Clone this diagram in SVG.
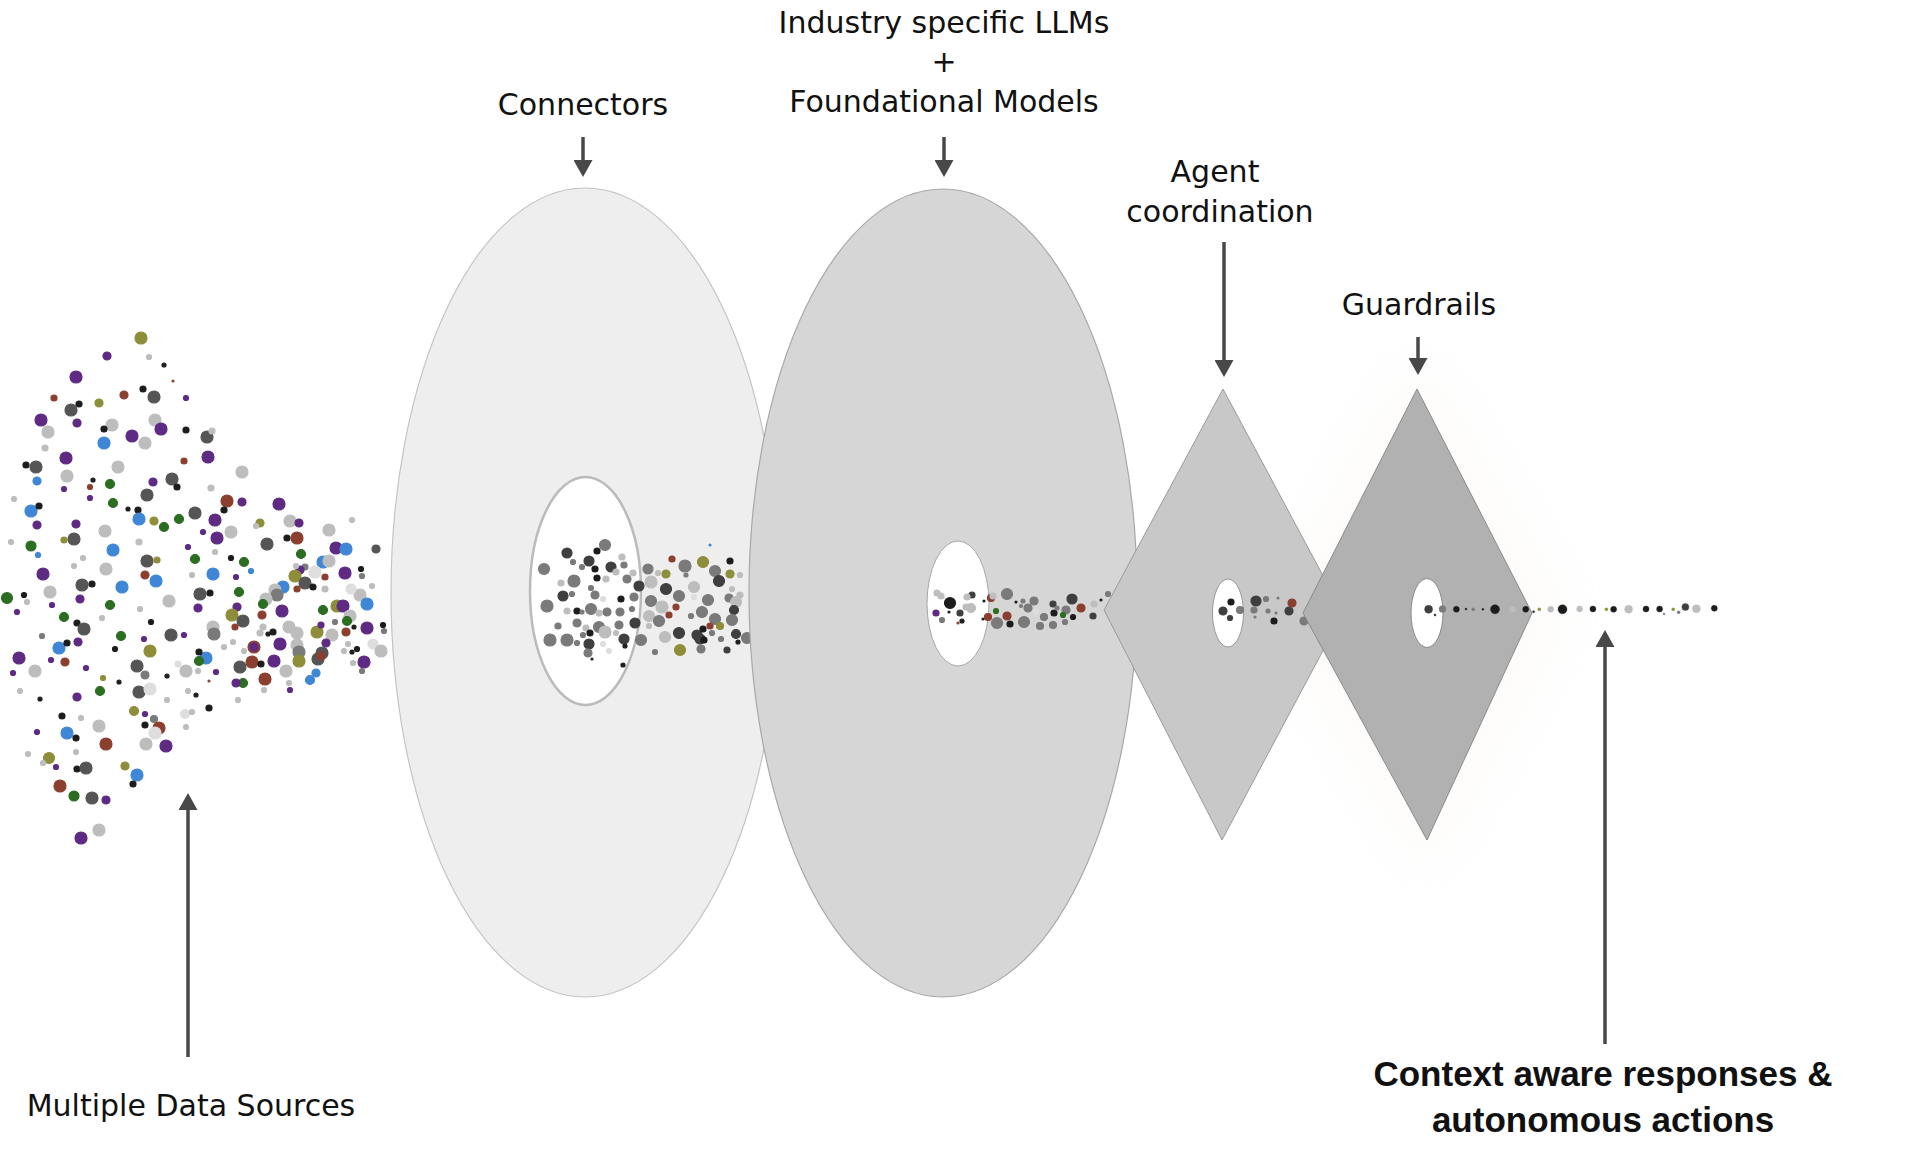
<svg xmlns="http://www.w3.org/2000/svg" width="1912" height="1158" viewBox="0 0 1912 1158">
<defs>
<style>
.lbl{font-family:"DejaVu Sans",sans-serif;font-size:30px;fill:#111;text-anchor:middle}
.bold{font-family:"Liberation Sans",Arial,sans-serif;font-size:35px;font-weight:bold;fill:#111;text-anchor:middle}
.conn line{stroke:#484848;stroke-width:3.5;marker-end:url(#ah)}
.pu{fill:#5e2a84;stroke:#5e2a84}.bl{fill:#3f87d6;stroke:#3f87d6}.gr{fill:#2b6e22;stroke:#2b6e22}.ol{fill:#8e8e3a;stroke:#8e8e3a}.br{fill:#8b3f2f;stroke:#8b3f2f}
.dg{fill:#555;stroke:#555}.dk{fill:#3f3f3f;stroke:#3f3f3f}.g{fill:#7a7a7a;stroke:#7a7a7a}.lg{fill:#bdbdbd;stroke:#bdbdbd}.vl{fill:#dedede;stroke:#dedede}.k{fill:#1c1c1c;stroke:#1c1c1c}
circle{stroke-width:1.2}
#output-stream circle{stroke-width:0.4}
</style>
<marker id="ah" viewBox="0 0 17 19" refX="0" refY="9.5" markerWidth="17" markerHeight="19" markerUnits="userSpaceOnUse" orient="auto">
<path d="M0,0 L17,9.5 L0,19 Z" fill="#484848"/>
</marker>
<filter id="glow" x="-50%" y="-50%" width="200%" height="200%"><feGaussianBlur stdDeviation="30"/></filter>
</defs>
<rect width="1912" height="1158" fill="#fff"/>

<g id="glow-guardrails">
<polygon points="1417,350 1570,613 1427,880 1265,613" fill="#ece2d4" opacity="0.12" filter="url(#glow)"/>
</g>

<g id="data-sources">
<circle class="ol" cx="141" cy="338" r="6"/><circle class="pu" cx="107" cy="356" r="4"/><circle class="lg" cx="149" cy="357" r="2.5"/><circle class="k" cx="164" cy="365" r="2"/>
<circle class="pu" cx="76" cy="377" r="6"/><circle class="br" cx="173" cy="381" r="1"/><circle class="br" cx="54" cy="398" r="3"/><circle class="br" cx="124" cy="395" r="4"/>
<circle class="k" cx="143" cy="389" r="3"/><circle class="dg" cx="154" cy="397" r="6"/><circle class="pu" cx="186" cy="398" r="2.5"/><circle class="ol" cx="99" cy="403" r="4"/>
<circle class="k" cx="79" cy="404" r="3"/><circle class="dg" cx="71" cy="410" r="6"/><circle class="pu" cx="41" cy="420" r="6"/><circle class="pu" cx="77" cy="423" r="4"/>
<circle class="lg" cx="112" cy="425" r="6"/><circle class="lg" cx="155" cy="420" r="6"/><circle class="pu" cx="161" cy="429" r="6"/><circle class="k" cx="104" cy="429" r="3"/>
<circle class="lg" cx="48" cy="432" r="6"/><circle class="pu" cx="132" cy="436" r="6"/><circle class="k" cx="186" cy="430" r="3"/><circle class="dg" cx="207" cy="437" r="6"/>
<circle class="lg" cx="212" cy="431" r="3"/><circle class="lg" cx="145" cy="443" r="6"/><circle class="bl" cx="104" cy="443" r="6"/><circle class="lg" cx="45" cy="448" r="3"/>
<circle class="pu" cx="208" cy="457" r="6"/><circle class="pu" cx="66" cy="458" r="6"/><circle class="k" cx="26" cy="465" r="3"/><circle class="dg" cx="36" cy="467" r="6"/>
<circle class="lg" cx="118" cy="467" r="6"/><circle class="br" cx="184" cy="461" r="3"/><circle class="lg" cx="242" cy="472" r="6"/><circle class="bl" cx="37" cy="481" r="4"/>
<circle class="lg" cx="67" cy="476" r="6"/><circle class="pu" cx="153" cy="482" r="4"/><circle class="dg" cx="172" cy="479" r="6"/><circle class="k" cx="177" cy="487" r="3"/>
<circle class="k" cx="93" cy="480" r="2"/><circle class="br" cx="90" cy="487" r="2.5"/><circle class="pu" cx="64" cy="489" r="2.5"/><circle class="gr" cx="110" cy="484" r="4.5"/>
<circle class="lg" cx="211" cy="488" r="3"/><circle class="lg" cx="14" cy="499" r="2.5"/><circle class="dg" cx="147" cy="495" r="6"/><circle class="pu" cx="90" cy="498" r="2.5"/>
<circle class="br" cx="227" cy="501" r="6"/><circle class="pu" cx="242" cy="502" r="4"/><circle class="pu" cx="279" cy="504" r="6"/><circle class="bl" cx="31" cy="511" r="6"/>
<circle class="k" cx="39" cy="506" r="3"/><circle class="gr" cx="113" cy="503" r="4.5"/><circle class="k" cx="128" cy="509" r="2"/><circle class="k" cx="138" cy="510" r="3"/>
<circle class="bl" cx="139" cy="519" r="6"/><circle class="ol" cx="154" cy="521" r="4"/><circle class="gr" cx="164" cy="527" r="4.5"/><circle class="gr" cx="179" cy="519" r="4.5"/>
<circle class="dg" cx="195" cy="513" r="6"/><circle class="k" cx="224" cy="510" r="3"/><circle class="pu" cx="215" cy="520" r="6"/><circle class="pu" cx="217" cy="538" r="6"/>
<circle class="lg" cx="231" cy="532" r="6"/><circle class="pu" cx="203" cy="532" r="2.5"/><circle class="pu" cx="37" cy="525" r="4"/><circle class="pu" cx="76" cy="524" r="4"/>
<circle class="lg" cx="105" cy="531" r="6"/><circle class="dg" cx="74" cy="539" r="6"/><circle class="ol" cx="64" cy="540" r="3"/><circle class="lg" cx="11" cy="542" r="2.5"/>
<circle class="gr" cx="31" cy="546" r="5"/><circle class="bl" cx="38" cy="555" r="2.5"/><circle class="bl" cx="113" cy="550" r="6"/><circle class="lg" cx="139" cy="542" r="3"/>
<circle class="pu" cx="188" cy="547" r="2.5"/><circle class="ol" cx="260" cy="523" r="4"/><circle class="lg" cx="256" cy="526" r="2.5"/><circle class="lg" cx="290" cy="521" r="6"/>
<circle class="pu" cx="299" cy="523" r="4"/><circle class="lg" cx="329" cy="530" r="6"/><circle class="k" cx="287" cy="538" r="3"/><circle class="br" cx="297" cy="538" r="6"/>
<circle class="dg" cx="267" cy="544" r="6"/><circle class="lg" cx="352" cy="520" r="2.5"/><circle class="dg" cx="376" cy="549" r="4"/><circle class="pu" cx="336" cy="548" r="6"/>
<circle class="bl" cx="346" cy="549" r="6"/><circle class="gr" cx="301" cy="554" r="4.5"/><circle class="bl" cx="323" cy="562" r="6"/><circle class="lg" cx="329" cy="561" r="6"/>
<circle class="pu" cx="345" cy="573" r="6"/><circle class="k" cx="361" cy="569" r="2.5"/><circle class="g" cx="362" cy="576" r="2.5"/><circle class="vl" cx="315" cy="572" r="6"/>
<circle class="br" cx="325" cy="577" r="3"/><circle class="g" cx="305" cy="567" r="3"/><circle class="pu" cx="300" cy="570" r="4"/><circle class="lg" cx="296" cy="566" r="2.5"/>
<circle class="ol" cx="295" cy="576" r="6"/><circle class="dg" cx="305" cy="583" r="6"/><circle class="k" cx="313" cy="587" r="3"/><circle class="lg" cx="325" cy="589" r="3"/>
<circle class="br" cx="297" cy="589" r="3"/><circle class="bl" cx="283" cy="587" r="6"/><circle class="lg" cx="275" cy="590" r="6"/><circle class="g" cx="277" cy="595" r="6"/>
<circle class="lg" cx="266" cy="599" r="6"/><circle class="gr" cx="263" cy="604" r="4.5"/><circle class="pu" cx="282" cy="611" r="6"/><circle class="gr" cx="244" cy="562" r="4.5"/>
<circle class="bl" cx="251" cy="571" r="2.5"/><circle class="bl" cx="213" cy="574" r="6"/><circle class="k" cx="231" cy="558" r="2.5"/><circle class="pu" cx="236" cy="577" r="2.5"/>
<circle class="gr" cx="239" cy="592" r="4.5"/><circle class="pu" cx="237" cy="607" r="4"/><circle class="ol" cx="232" cy="615" r="6"/><circle class="dg" cx="243" cy="621" r="6"/>
<circle class="br" cx="235" cy="627" r="3"/><circle class="br" cx="262" cy="615" r="4"/><circle class="lg" cx="263" cy="627" r="3"/><circle class="k" cx="273" cy="632" r="3"/>
<circle class="lg" cx="260" cy="633" r="3"/><circle class="k" cx="268" cy="634" r="2"/><circle class="lg" cx="289" cy="627" r="6"/><circle class="lg" cx="297" cy="633" r="6"/>
<circle class="lg" cx="297" cy="645" r="6"/><circle class="g" cx="299" cy="652" r="6"/><circle class="pu" cx="280" cy="644" r="6"/><circle class="ol" cx="317" cy="632" r="6"/>
<circle class="pu" cx="321" cy="625" r="3"/><circle class="ol" cx="337" cy="606" r="6"/><circle class="pu" cx="343" cy="606" r="6"/><circle class="lg" cx="350" cy="616" r="6"/>
<circle class="lg" cx="360" cy="595" r="6"/><circle class="bl" cx="367" cy="604" r="6"/><circle class="vl" cx="351" cy="589" r="5"/><circle class="lg" cx="372" cy="586" r="2.5"/>
<circle class="gr" cx="323" cy="610" r="4.5"/><circle class="g" cx="335" cy="622" r="2.5"/><circle class="gr" cx="347" cy="621" r="4.5"/><circle class="br" cx="346" cy="632" r="4"/>
<circle class="lg" cx="332" cy="635" r="6"/><circle class="pu" cx="326" cy="643" r="4"/><circle class="pu" cx="367" cy="628" r="6"/><circle class="k" cx="383" cy="625" r="2.5"/>
<circle class="g" cx="384" cy="631" r="2.5"/><circle class="k" cx="354" cy="627" r="2"/><circle class="lg" cx="348" cy="644" r="2.5"/><circle class="lg" cx="344" cy="651" r="2.5"/>
<circle class="k" cx="352" cy="652" r="2"/><circle class="k" cx="357" cy="649" r="2.5"/><circle class="vl" cx="373" cy="644" r="5"/><circle class="lg" cx="381" cy="651" r="6"/>
<circle class="pu" cx="364" cy="662" r="6"/><circle class="lg" cx="353" cy="663" r="2.5"/><circle class="g" cx="362" cy="671" r="2.5"/><circle class="dg" cx="322" cy="653" r="6"/>
<circle class="dg" cx="318" cy="659" r="6"/><circle class="br" cx="321" cy="656" r="4"/><circle class="ol" cx="299" cy="661" r="6"/><circle class="lg" cx="286" cy="671" r="6"/>
<circle class="lg" cx="289" cy="683" r="2.5"/><circle class="bl" cx="316" cy="673" r="4"/><circle class="bl" cx="310" cy="680" r="4.5"/><circle class="pu" cx="290" cy="690" r="2.5"/>
<circle class="pu" cx="274" cy="661" r="6"/><circle class="br" cx="252" cy="662" r="6"/><circle class="br" cx="254" cy="647" r="6"/><circle class="pu" cx="254" cy="647" r="4"/>
<circle class="k" cx="261" cy="664" r="3"/><circle class="dg" cx="240" cy="667" r="6"/><circle class="br" cx="265" cy="679" r="6"/><circle class="gr" cx="243" cy="683" r="4.5"/>
<circle class="pu" cx="236" cy="683" r="4"/><circle class="lg" cx="264" cy="690" r="2.5"/><circle class="lg" cx="238" cy="700" r="2.5"/><circle class="lg" cx="224" cy="647" r="2.5"/>
<circle class="lg" cx="233" cy="642" r="2.5"/><circle class="lg" cx="244" cy="651" r="2.5"/><circle class="bl" cx="206" cy="658" r="6"/><circle class="gr" cx="199" cy="661" r="4.5"/>
<circle class="k" cx="199" cy="652" r="3"/><circle class="lg" cx="186" cy="671" r="6"/><circle class="lg" cx="198" cy="671" r="2.5"/><circle class="pu" cx="216" cy="672" r="2.5"/>
<circle class="br" cx="209" cy="681" r="1"/><circle class="vl" cx="178" cy="664" r="3"/><circle class="lg" cx="213" cy="627" r="6"/><circle class="g" cx="214" cy="634" r="6"/>
<circle class="dg" cx="200" cy="594" r="6"/><circle class="k" cx="210" cy="593" r="3"/><circle class="lg" cx="192" cy="575" r="2.5"/><circle class="gr" cx="195" cy="559" r="4.5"/>
<circle class="lg" cx="215" cy="552" r="2.5"/><circle class="bl" cx="156" cy="581" r="6"/><circle class="dg" cx="147" cy="561" r="6"/><circle class="ol" cx="157" cy="560" r="3"/>
<circle class="br" cx="145" cy="575" r="4"/><circle class="lg" cx="169" cy="601" r="6"/><circle class="pu" cx="198" cy="608" r="4"/><circle class="dg" cx="171" cy="635" r="6"/>
<circle class="pu" cx="184" cy="635" r="2.5"/><circle class="k" cx="151" cy="622" r="2.5"/><circle class="lg" cx="140" cy="609" r="2.5"/><circle class="gr" cx="121" cy="636" r="4.5"/>
<circle class="pu" cx="144" cy="639" r="2.5"/><circle class="ol" cx="150" cy="651" r="6"/><circle class="dg" cx="137" cy="666" r="6"/><circle class="g" cx="145" cy="675" r="4"/>
<circle class="dg" cx="139" cy="692" r="6"/><circle class="vl" cx="150" cy="689" r="6"/><circle class="k" cx="167" cy="676" r="2"/><circle class="lg" cx="167" cy="700" r="2.5"/>
<circle class="bl" cx="122" cy="587" r="6"/><circle class="lg" cx="106" cy="569" r="6"/><circle class="gr" cx="110" cy="605" r="4.5"/><circle class="lg" cx="102" cy="618" r="2.5"/>
<circle class="dg" cx="82" cy="585" r="6"/><circle class="k" cx="92" cy="584" r="3"/><circle class="lg" cx="83" cy="558" r="2.5"/><circle class="lg" cx="74" cy="566" r="2.5"/>
<circle class="pu" cx="43" cy="574" r="6"/><circle class="lg" cx="50" cy="592" r="6"/><circle class="pu" cx="80" cy="599" r="4"/><circle class="gr" cx="64" cy="617" r="4.5"/>
<circle class="k" cx="77" cy="623" r="3"/><circle class="dg" cx="84" cy="629" r="6"/><circle class="k" cx="24" cy="595" r="2.5"/><circle class="lg" cx="27" cy="602" r="2.5"/>
<circle class="gr" cx="7" cy="598" r="5.5"/><circle class="pu" cx="17" cy="612" r="2.5"/><circle class="pu" cx="52" cy="605" r="2.5"/><circle class="g" cx="42" cy="636" r="2.5"/>
<circle class="bl" cx="59" cy="648" r="6"/><circle class="k" cx="67" cy="643" r="3"/><circle class="pu" cx="78" cy="642" r="4"/><circle class="pu" cx="19" cy="658" r="6"/>
<circle class="lg" cx="35" cy="671" r="6"/><circle class="pu" cx="13" cy="673" r="2.5"/><circle class="pu" cx="51" cy="660" r="2.5"/><circle class="br" cx="65" cy="662" r="4"/>
<circle class="pu" cx="86" cy="668" r="2.5"/><circle class="k" cx="115" cy="649" r="2.5"/><circle class="gr" cx="100" cy="691" r="4.5"/><circle class="ol" cx="103" cy="678" r="2.5"/>
<circle class="pu" cx="77" cy="697" r="4"/><circle class="k" cx="40" cy="699" r="2"/><circle class="lg" cx="20" cy="691" r="2.5"/><circle class="k" cx="119" cy="682" r="2"/>
<circle class="ol" cx="134" cy="711" r="4.5"/><circle class="pu" cx="145" cy="714" r="2.5"/><circle class="g" cx="154" cy="719" r="3.5"/><circle class="k" cx="145" cy="725" r="3"/>
<circle class="br" cx="159" cy="728" r="6"/><circle class="vl" cx="155" cy="733" r="6"/><circle class="lg" cx="146" cy="744" r="6"/><circle class="pu" cx="166" cy="746" r="6"/>
<circle class="vl" cx="185" cy="714" r="4.5"/><circle class="lg" cx="192" cy="712" r="2.5"/><circle class="lg" cx="186" cy="727" r="2.5"/><circle class="k" cx="209" cy="708" r="3"/>
<circle class="lg" cx="188" cy="691" r="2.5"/><circle class="k" cx="196" cy="695" r="2"/><circle class="k" cx="62" cy="716" r="3"/><circle class="lg" cx="81" cy="718" r="2.5"/>
<circle class="lg" cx="99" cy="726" r="6"/><circle class="bl" cx="67" cy="733" r="6"/><circle class="k" cx="76" cy="738" r="3"/><circle class="pu" cx="37" cy="732" r="2.5"/>
<circle class="br" cx="106" cy="744" r="6"/><circle class="lg" cx="76" cy="752" r="2.5"/><circle class="lg" cx="28" cy="754" r="2.5"/><circle class="ol" cx="49" cy="758" r="5.5"/>
<circle class="lg" cx="43" cy="763" r="2.5"/><circle class="pu" cx="56" cy="767" r="2.5"/><circle class="k" cx="77" cy="769" r="3"/><circle class="dg" cx="86" cy="768" r="6"/>
<circle class="ol" cx="125" cy="766" r="4"/><circle class="bl" cx="137" cy="775" r="6"/><circle class="k" cx="133" cy="784" r="3"/><circle class="br" cx="60" cy="786" r="6"/>
<circle class="gr" cx="74" cy="796" r="5"/><circle class="dg" cx="92" cy="798" r="6"/><circle class="pu" cx="106" cy="800" r="4"/><circle class="lg" cx="99" cy="830" r="6"/>
<circle class="pu" cx="81" cy="838" r="6"/>
</g>

<g id="connectors">
<ellipse cx="585" cy="592.5" rx="194" ry="404.5" fill="#eeeeee" stroke="#c4c4c4" stroke-width="1.2"/>
<ellipse cx="585.5" cy="591" rx="55.5" ry="114" fill="#ffffff" stroke="#bbbbbb" stroke-width="2.5"/>
<g id="stream-connectors">
<circle class="g" cx="544" cy="569" r="5.5"/><circle class="dk" cx="567" cy="553" r="5"/><circle class="g" cx="605" cy="545" r="5.5"/><circle class="k" cx="597" cy="551" r="3"/>
<circle class="g" cx="573" cy="562" r="2.5"/><circle class="dk" cx="589" cy="561" r="5"/><circle class="g" cx="582" cy="567" r="2.5"/><circle class="dk" cx="611" cy="567" r="5"/>
<circle class="lg" cx="622" cy="557" r="3"/><circle class="g" cx="624" cy="565" r="3"/><circle class="k" cx="595" cy="569" r="3"/><circle class="g" cx="574" cy="581" r="6"/>
<circle class="k" cx="597" cy="578" r="3"/><circle class="lg" cx="606" cy="579" r="3"/><circle class="lg" cx="616" cy="572" r="3"/><circle class="g" cx="627" cy="579" r="4"/>
<circle class="lg" cx="633" cy="573" r="3"/><circle class="dk" cx="639" cy="586" r="5"/><circle class="lg" cx="561" cy="583" r="3"/><circle class="g" cx="591" cy="588" r="2.5"/>
<circle class="dk" cx="563" cy="596" r="5"/><circle class="g" cx="572" cy="594" r="2.5"/><circle class="g" cx="595" cy="595" r="4"/><circle class="k" cx="621" cy="599" r="3"/>
<circle class="g" cx="634" cy="597" r="4"/><circle class="vl" cx="603" cy="599" r="2.5"/><circle class="g" cx="547" cy="606" r="6"/><circle class="g" cx="591" cy="609" r="5.5"/>
<circle class="lg" cx="567" cy="611" r="3"/><circle class="k" cx="577" cy="611" r="3"/><circle class="g" cx="582" cy="612" r="2"/><circle class="lg" cx="599" cy="613" r="3"/>
<circle class="g" cx="607" cy="612" r="4"/><circle class="g" cx="620" cy="612" r="4"/><circle class="g" cx="632" cy="609" r="2.5"/><circle class="g" cx="577" cy="623" r="4"/>
<circle class="g" cx="558" cy="626" r="3"/><circle class="g" cx="599" cy="627" r="5.5"/><circle class="lg" cx="586" cy="628" r="3"/><circle class="g" cx="619" cy="625" r="4"/>
<circle class="dk" cx="635" cy="623" r="5"/><circle class="g" cx="550" cy="640" r="6"/><circle class="g" cx="567" cy="640" r="6"/><circle class="g" cx="583" cy="635" r="2.5"/>
<circle class="k" cx="590" cy="633" r="3"/><circle class="lg" cx="605" cy="632" r="6"/><circle class="lg" cx="616" cy="633" r="2.5"/><circle class="dk" cx="624" cy="639" r="5"/>
<circle class="g" cx="577" cy="643" r="2.5"/><circle class="dk" cx="589" cy="644" r="5"/><circle class="vl" cx="603" cy="644" r="2.5"/><circle class="k" cx="625" cy="646" r="2"/>
<circle class="g" cx="588" cy="653" r="4"/><circle class="vl" cx="609" cy="651" r="2.5"/><circle class="k" cx="623" cy="665" r="2"/><circle class="k" cx="592" cy="659" r="1"/>
<circle class="g" cx="648" cy="569" r="5"/><circle class="lg" cx="658" cy="573" r="2.5"/><circle class="lg" cx="651" cy="582" r="6"/><circle class="ol" cx="666" cy="574" r="4"/>
<circle class="br" cx="672" cy="559" r="3"/><circle class="g" cx="685" cy="566" r="6"/><circle class="g" cx="686" cy="575" r="2"/><circle class="ol" cx="703" cy="562" r="5.5"/>
<circle class="g" cx="715" cy="571" r="5.5"/><circle class="k" cx="730" cy="561" r="3"/><circle class="ol" cx="730" cy="574" r="4"/><circle class="lg" cx="740" cy="575" r="2.5"/>
<circle class="dk" cx="719" cy="581" r="5.5"/><circle class="dk" cx="666" cy="589" r="5.5"/><circle class="lg" cx="694" cy="587" r="5.5"/><circle class="g" cx="679" cy="596" r="5.5"/>
<circle class="g" cx="651" cy="601" r="5.5"/><circle class="lg" cx="662" cy="607" r="6"/><circle class="br" cx="676" cy="607" r="3"/><circle class="br" cx="669" cy="615" r="3"/>
<circle class="vl" cx="694" cy="597" r="2.5"/><circle class="g" cx="708" cy="600" r="5.5"/><circle class="lg" cx="732" cy="589" r="2.5"/><circle class="g" cx="729" cy="598" r="4"/>
<circle class="lg" cx="736" cy="602" r="5.5"/><circle class="lg" cx="740" cy="595" r="3"/><circle class="dk" cx="734" cy="610" r="4.5"/><circle class="g" cx="702" cy="612" r="5.5"/>
<circle class="lg" cx="649" cy="616" r="5.5"/><circle class="g" cx="659" cy="621" r="5.5"/><circle class="g" cx="691" cy="616" r="2.5"/><circle class="g" cx="715" cy="619" r="5.5"/>
<circle class="g" cx="732" cy="620" r="5.5"/><circle class="lg" cx="649" cy="626" r="2.5"/><circle class="lg" cx="665" cy="637" r="5.5"/><circle class="dk" cx="679" cy="633" r="5.5"/>
<circle class="dk" cx="697" cy="635" r="5"/><circle class="k" cx="703" cy="629" r="3"/><circle class="dk" cx="700" cy="639" r="5"/><circle class="k" cx="704" cy="640" r="3"/>
<circle class="br" cx="710" cy="626" r="3"/><circle class="ol" cx="720" cy="626" r="3.5"/><circle class="dk" cx="736" cy="634" r="4.5"/><circle class="g" cx="712" cy="633" r="2.5"/>
<circle class="g" cx="721" cy="639" r="2.5"/><circle class="g" cx="641" cy="640" r="5.5"/><circle class="ol" cx="680" cy="650" r="5.5"/><circle class="g" cx="701" cy="649" r="4"/>
<circle class="dk" cx="727" cy="650" r="3"/><circle class="k" cx="738" cy="642" r="2"/><circle class="g" cx="655" cy="652" r="2.5"/><circle class="g" cx="747" cy="638" r="5.5"/>
<circle class="bl" cx="710" cy="545" r="1"/>
</g>
</g>

<g id="llms">
<ellipse cx="943" cy="593" rx="194" ry="404" fill="#d6d6d6" stroke="#a8a8a8" stroke-width="1.2"/>
<ellipse cx="958" cy="603.5" rx="31" ry="62.5" fill="#ffffff" stroke="#a8a8a8" stroke-width="1"/>
<g id="stream-llms">
<circle class="lg" cx="937" cy="593" r="3"/><circle class="lg" cx="941" cy="596" r="3"/><circle class="k" cx="950" cy="603" r="5.5"/><circle class="dk" cx="972" cy="595" r="3"/>
<circle class="lg" cx="967" cy="597" r="3"/><circle class="lg" cx="971" cy="608" r="4.5"/><circle class="lg" cx="966" cy="607" r="3"/><circle class="pu" cx="936" cy="613" r="3"/>
<circle class="dk" cx="960" cy="613" r="3"/><circle class="g" cx="942" cy="620" r="2.5"/><circle class="k" cx="962" cy="621" r="2"/><circle class="br" cx="958" cy="623" r="1"/>
<circle class="k" cx="949" cy="612" r="1"/><circle class="br" cx="991" cy="598" r="3.5"/><circle class="lg" cx="993" cy="596" r="3"/><circle class="br" cx="988" cy="617" r="3.5"/>
<circle class="gr" cx="996" cy="611" r="2.5"/><circle class="g" cx="1007" cy="594" r="5.5"/><circle class="g" cx="997" cy="623" r="5.5"/><circle class="br" cx="1007" cy="616" r="4"/>
<circle class="k" cx="1010" cy="624" r="3"/><circle class="g" cx="1024" cy="622" r="5.5"/><circle class="g" cx="1023" cy="601" r="2"/><circle class="g" cx="1028" cy="608" r="4"/>
<circle class="g" cx="1034" cy="601" r="4"/><circle class="vl" cx="1036" cy="612" r="2.5"/><circle class="g" cx="1044" cy="617" r="3.5"/><circle class="g" cx="1040" cy="626" r="3.5"/>
<circle class="g" cx="1053" cy="625" r="3.5"/><circle class="dk" cx="1053" cy="604" r="3"/><circle class="k" cx="1054" cy="613" r="3"/><circle class="g" cx="1057" cy="608" r="2"/>
<circle class="g" cx="1066" cy="610" r="4"/><circle class="dk" cx="1072" cy="599" r="5"/><circle class="gr" cx="1063" cy="615" r="2.5"/><circle class="k" cx="1073" cy="617" r="2.5"/>
<circle class="g" cx="1065" cy="622" r="2.5"/><circle class="br" cx="1081" cy="608" r="4"/><circle class="lg" cx="1094" cy="604" r="3"/><circle class="dk" cx="1093" cy="616" r="3"/>
<circle class="k" cx="1101" cy="600" r="1"/><circle class="g" cx="1108" cy="594" r="2.5"/><circle class="g" cx="1021" cy="606" r="1.5"/><circle class="k" cx="984" cy="601" r="1"/>
<circle class="k" cx="983" cy="619" r="1"/><circle class="k" cx="1016" cy="602" r="1"/>
</g>
</g>

<g id="agent-coordination">
<polygon points="1223,389 1343,613 1222,840 1104,610" fill="#c8c8c8" stroke="#9a9a9a" stroke-width="1"/>
<ellipse cx="1228" cy="613" rx="15.5" ry="34" fill="#ffffff" stroke="#999" stroke-width="1"/>
<g id="stream-agent">
<circle class="dk" cx="1223" cy="611" r="4"/><circle class="k" cx="1231" cy="602" r="3"/><circle class="dk" cx="1230" cy="618" r="2.5"/><circle class="g" cx="1240" cy="610" r="3.5"/>
<circle class="dk" cx="1256" cy="601" r="5"/><circle class="g" cx="1266" cy="599" r="2.5"/><circle class="g" cx="1254" cy="610" r="3"/><circle class="g" cx="1268" cy="611" r="2"/>
<circle class="k" cx="1274" cy="621" r="3"/><circle class="g" cx="1255" cy="617" r="1"/><circle class="g" cx="1278" cy="598" r="1"/><circle class="g" cx="1276" cy="613" r="1"/>
<circle class="dk" cx="1289" cy="611" r="4"/><circle class="br" cx="1292" cy="603" r="4"/><circle class="g" cx="1304" cy="621" r="4"/>
</g>
</g>

<g id="guardrails">
<polygon points="1417,389 1532,613 1427,840 1303,613" fill="#b1b1b1" stroke="#8a8a8a" stroke-width="1"/>
<ellipse cx="1427" cy="613" rx="16" ry="34.5" fill="#ffffff" stroke="#8a8a8a" stroke-width="1"/>
</g>

<g id="output-stream">
<circle class="dk" cx="1428.6" cy="609.3" r="4"/><circle class="g" cx="1442.5" cy="609" r="3.5"/><circle class="k" cx="1456.4" cy="609.3" r="3"/><circle class="k" cx="1466" cy="609" r="1"/>
<circle class="g" cx="1473.2" cy="609.3" r="1.5"/><circle class="k" cx="1482.9" cy="609.3" r="1"/><circle class="k" cx="1495" cy="609.3" r="4.5"/><circle class="lg" cx="1512.5" cy="609.3" r="3"/>
<circle class="k" cx="1525.7" cy="609.3" r="3"/><circle class="k" cx="1533.6" cy="611.7" r="1"/><circle class="ol" cx="1539.3" cy="609.3" r="1.5"/><circle class="lg" cx="1550.7" cy="609.3" r="3"/>
<circle class="k" cx="1562.5" cy="609.3" r="4.5"/><circle class="lg" cx="1579.6" cy="609" r="3"/><circle class="k" cx="1592.9" cy="609" r="3"/><circle class="ol" cx="1606.4" cy="609.3" r="1.5"/>
<circle class="k" cx="1613.6" cy="609.3" r="3"/><circle class="lg" cx="1628.6" cy="609.3" r="4"/><circle class="k" cx="1646" cy="609" r="3"/><circle class="k" cx="1659.6" cy="609" r="3"/>
<circle class="g" cx="1664" cy="614" r="1"/><circle class="ol" cx="1673.2" cy="609.3" r="1.5"/><circle class="g" cx="1678.6" cy="612.3" r="1.5"/><circle class="dk" cx="1685.4" cy="607" r="3.5"/>
<circle class="lg" cx="1696.4" cy="608.7" r="4"/><circle class="k" cx="1714.3" cy="608.3" r="3"/><circle class="k" cx="1435" cy="615" r="1"/>
</g>

<g id="connectors-arrows" class="conn">
<line x1="583" y1="137" x2="583" y2="160"/>
<line x1="944" y1="137" x2="944" y2="160"/>
<line x1="1224" y1="242" x2="1224" y2="360"/>
<line x1="1418" y1="337" x2="1418" y2="358"/>
<line x1="188" y1="1057" x2="188" y2="810"/>
<line x1="1605" y1="1044" x2="1605" y2="647"/>
</g>

<g id="labels">
<text class="lbl" x="944" y="33">Industry specific LLMs</text>
<text class="lbl" x="944" y="72">+</text>
<text class="lbl" x="944" y="112">Foundational Models</text>
<text class="lbl" x="583" y="115">Connectors</text>
<text class="lbl" x="1215" y="182">Agent</text>
<text class="lbl" x="1220" y="222">coordination</text>
<text class="lbl" x="1419" y="315">Guardrails</text>
<text class="lbl" x="191" y="1116">Multiple Data Sources</text>
<text class="bold" x="1603" y="1086">Context aware responses &amp;</text>
<text class="bold" x="1603" y="1132">autonomous actions</text>
</g>
</svg>
